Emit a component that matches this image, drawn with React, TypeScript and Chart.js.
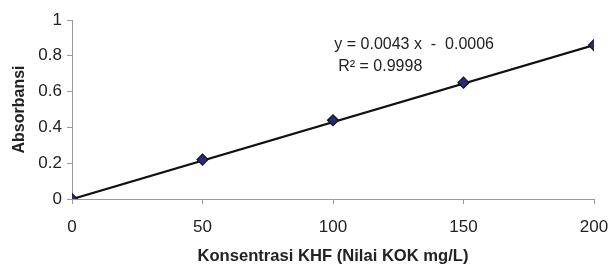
import React, { useEffect, useRef } from "react";
import { Chart, registerables } from "chart.js";

Chart.register(...registerables);

const concentrations = [0, 50, 100, 150, 200];
const absorbances = [0.0, 0.22, 0.44, 0.65, 0.86];
const trendX = [0, 200];
const trendY = [-0.0006, 0.8594];
const equationText = "y = 0.0043 x  -  0.0006";
const r2Text = "R² = 0.9998";
const xTitle = "Konsentrasi KHF (Nilai KOK mg/L)";
const yTitle = "Absorbansi";

const TEXT = "#222222";
const AXIS = "#9a9a9a";
const FONT = "'Liberation Sans', Arial, sans-serif";

const annotationPlugin = {
  id: "eqAnnotation",
  afterDatasetsDraw(chart: any) {
    const ctx = chart.ctx;
    const xs = chart.scales.x;
    const ys = chart.scales.y;
    ctx.save();
    ctx.fillStyle = TEXT;
    ctx.font = `16px ${FONT}`;
    ctx.textBaseline = "middle";
    ctx.textAlign = "left";
    ctx.fillText(equationText, xs.getPixelForValue(100.5), ys.getPixelForValue(0.86));
    ctx.fillText(r2Text, xs.getPixelForValue(102), ys.getPixelForValue(0.74));
    ctx.restore();
  },
};

export default function App() {
  const ref = useRef<HTMLCanvasElement | null>(null);
  useEffect(() => {
    if (!ref.current) return;
    const chart = new Chart(ref.current, {
      type: "scatter",
      data: {
        datasets: [
          {
            label: "Data",
            data: concentrations.map((x, i) => ({ x, y: absorbances[i] })),
            showLine: false,
            pointStyle: "rectRot",
            pointRadius: 5.5,
            backgroundColor: "#2a2a7a",
            borderColor: "#111111",
            borderWidth: 1.2,
          },
          {
            label: "Trend",
            data: trendX.map((x, i) => ({ x, y: trendY[i] })),
            showLine: true,
            pointRadius: 0,
            borderColor: "#111111",
            borderWidth: 2.2,
          },
        ],
      },
      options: {
        animation: false,
        responsive: false,
        layout: { padding: { left: 10, right: 0, top: 20, bottom: 0 } },
        plugins: { legend: { display: false }, tooltip: { enabled: false } },
        scales: {
          x: {
            type: "linear",
            min: 0,
            max: 200,
            afterFit: (s: any) => { s.height = 67; s.paddingRight = 14; s.paddingLeft = 0; },
            ticks: {
              stepSize: 50,
              color: TEXT,
              font: { family: FONT, size: 17 },
              padding: 13,
              maxRotation: 0,
            },
            grid: { display: true, drawOnChartArea: false, tickLength: 5, color: AXIS },
            border: { color: AXIS, width: 1 },
            title: {
              display: true,
              text: xTitle,
              color: TEXT,
              font: { family: FONT, size: 16.6, weight: "bold" },
              padding: 0,
            },
          },
          y: {
            type: "linear",
            min: 0,
            max: 1,
            afterFit: (s: any) => { s.width = 62; },
            ticks: {
              stepSize: 0.2,
              color: TEXT,
              font: { family: FONT, size: 17 },
              padding: 5,
              callback: (v: any) => String(Math.round(Number(v) * 10) / 10),
            },
            grid: { display: true, drawOnChartArea: false, tickLength: 5, color: AXIS },
            border: { color: AXIS, width: 1 },
            title: {
              display: true,
              text: yTitle,
              color: TEXT,
              font: { family: FONT, size: 16, weight: "bold" },
              padding: 0,
            },
          },
        },
      },
      plugins: [annotationPlugin],
    });
    return () => chart.destroy();
  }, []);
  return (
    <div style={{ position: "fixed", left: 0, top: 0, width: 608, height: 266, background: "#fff" }}>
      <canvas ref={ref} width={608} height={266} style={{ width: 608, height: 266 }} />
    </div>
  );
}
